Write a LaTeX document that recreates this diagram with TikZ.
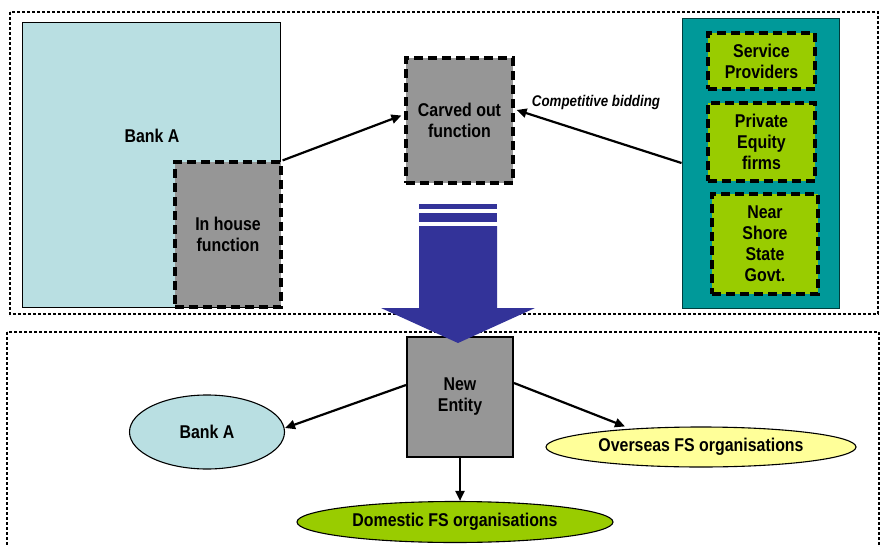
\documentclass[tikz,border=0pt]{standalone}
\usepackage{fontspec}
\setmainfont{Liberation Sans}[FakeStretch=0.86]
\usetikzlibrary{arrows.meta,shapes.geometric}
\definecolor{bankblue}{HTML}{B9DFE2}
\definecolor{boxgray}{HTML}{969696}
\definecolor{panelteal}{HTML}{009999}
\definecolor{leafgreen}{HTML}{99CC00}
\definecolor{paleyellow}{HTML}{FFFF99}
\definecolor{flowblue}{HTML}{333399}
\tikzset{
  labelfont/.style={font=\bfseries\fontsize{18.5}{21}\selectfont},
  frame/.style={draw=black, line width=1.4pt, dash pattern=on 3pt off 2pt},
  dashbox/.style={rectangle, draw=black, fill=boxgray, line width=3.2pt,
    dash pattern=on 9pt off 5pt, align=center, inner sep=0pt, labelfont},
  leafbox/.style={dashbox, fill=leafgreen},
  solidbox/.style={rectangle, draw=black, fill=boxgray, line width=2pt,
    align=center, inner sep=0pt, labelfont},
  oval/.style={ellipse, draw=black, line width=1.1pt, inner sep=0pt,
    align=center, labelfont},
  conn/.style={draw=black, line width=2.2pt, -{Triangle[length=10pt,width=9pt]}}
}
\begin{document}
\begin{tikzpicture}[x=1pt,y=-1pt]
\useasboundingbox (0,0) rectangle (881,546);

% the two dashed frames
\draw[frame] (10,12) rectangle (878,314);
\draw[frame] (7,332) rectangle (879,560);

% the bank and its in-house function
\node[rectangle, draw=black, line width=0.9pt, fill=bankblue,
      minimum width=258pt, minimum height=285pt] (bank) at (151,164.5) {};
\node[labelfont] (banklabel) at (152,136) {Bank A};
\node[dashbox, minimum width=106pt, minimum height=145pt] (inhouse) at (228,234.5)
  {In house\\function};

% carved out function
\node[dashbox, minimum width=107pt, minimum height=125pt] (carved) at (459.5,120.5)
  {Carved out\\function};

% bidders
\node[rectangle, draw=black!60!panelteal, line width=1pt, fill=panelteal,
      minimum width=157pt, minimum height=290pt] (panel) at (760.5,163) {};
\node[leafbox, minimum width=107pt, minimum height=56pt] (sp) at (761.5,61)
  {Service\\Providers};
\node[leafbox, minimum width=107pt, minimum height=78pt] (pe) at (761.5,142)
  {Private\\Equity\\firms};
\node[leafbox, minimum width=106pt, minimum height=100pt] (ns) at (765,244)
  {Near\\Shore\\State\\Govt.};

\node[font=\bfseries\itshape\fontsize{15.5}{18}\selectfont] (bid) at (596,102)
  {Competitive bidding};

\draw[conn] (inhouse.north east) -- ([xshift=-3pt,yshift=5pt]carved.west);
\draw[conn] (panel.west) -- ([xshift=2pt,yshift=10.5pt]carved.east);

% new entity and its clients
\node[solidbox, minimum width=106pt, minimum height=120pt] (entity) at (460,397)
  {New\\Entity};
\node[oval, fill=bankblue, minimum width=155pt, minimum height=74pt] (bank2) at (207,432)
  {Bank A};
\node[oval, fill=paleyellow, minimum width=310pt, minimum height=40pt] (overseas) at (701,447)
  {Overseas FS organisations};
\node[oval, fill=leafgreen, minimum width=316pt, minimum height=41pt] (domestic) at (455,522)
  {Domestic FS organisations};

\draw[conn] ([yshift=12pt]entity.west) -- ([yshift=4pt]bank2.east);
\draw[conn] ([yshift=14pt]entity.east) -- ([xshift=-76pt]overseas.north);
\draw[conn] (entity.south) -- (entity.south |- domestic.north);

% block arrow from the carve-out to the new entity
\fill[flowblue] (419,204) rectangle (497,209);
\fill[flowblue] (419,213) rectangle (497,222);
\fill[flowblue] (419,226) -- (497,226) -- (497,308) -- (535,308) -- (458,343)
  -- (381,308) -- (419,308) -- cycle;
\end{tikzpicture}
\end{document}
